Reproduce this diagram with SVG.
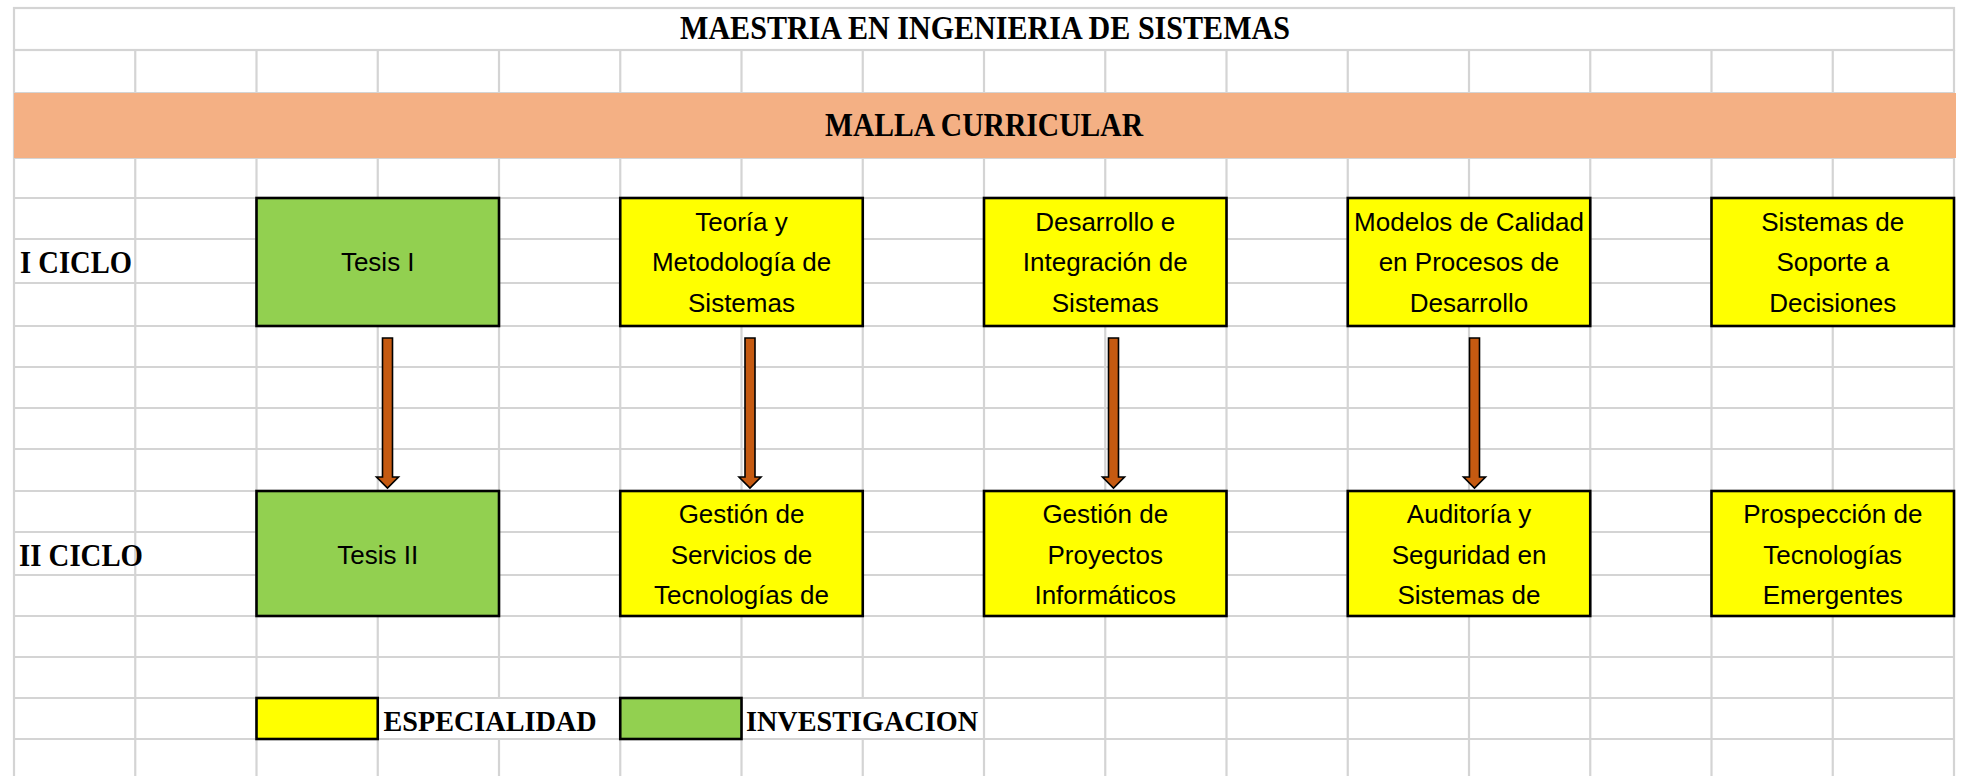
<svg xmlns="http://www.w3.org/2000/svg" xmlns:xlink="http://www.w3.org/1999/xlink" width="1964" height="776" viewBox="0 0 1964 776">
<style>
.grid{fill:none;stroke:#D4D4D4;stroke-width:2.2}
.band{fill:#F4B084}
.hdr{font-family:"Liberation Serif","Times New Roman",serif;font-weight:bold;fill:#000}
.box{stroke:#000;stroke-width:2.6}
.spec{fill:#FFFF00}
.inv{fill:#92D050}
.lbl{font-family:"Liberation Sans",Arial,sans-serif;font-size:26px;fill:#000;text-anchor:middle}
.arrow{fill:#C55A11;stroke:#000;stroke-width:1.6;stroke-linejoin:miter}
</style>
<defs>
<path id="arw" class="arrow" d="M-5,338 H5 V477 H11 L0,488 L-11,477 H-5 Z"/>
</defs>
<rect width="1964" height="776" fill="#fff"/>
<g id="grid">
<path class="grid" d="M14,50 V776 M135.25,50 V776 M256.5,50 V776 M377.75,50 V776 M499,50 V698 M499,739 V776 M620.25,50 V776 M741.5,50 V776 M862.75,50 V698 M862.75,739 V776 M984,50 V776 M1105.25,50 V776 M1226.5,50 V776 M1347.75,50 V776 M1469,50 V776 M1590.25,50 V776 M1711.5,50 V776 M1832.75,50 V776 M1954,50 V776"/>
<path class="grid" d="M14,93 H1954 M14,158 H1954 M14,198 H1954 M14,239 H1954 M14,283 H1954 M14,326 H1954 M14,367 H1954 M14,408 H1954 M14,449 H1954 M14,491 H1954 M14,532 H1954 M14,575 H1954 M14,616 H1954 M14,657 H1954 M14,698 H1954 M14,739 H1954"/>
<rect class="grid" x="14" y="8" width="1940" height="42"/>
</g>
<g id="title">
<text class="hdr" x="985" y="39" font-size="33" text-anchor="middle" textLength="610" lengthAdjust="spacingAndGlyphs">MAESTRIA EN INGENIERIA DE SISTEMAS</text>
</g>
<g id="malla">
<rect class="band" x="14" y="93" width="1942" height="65"/>
<text class="hdr" x="984" y="136" font-size="33" text-anchor="middle" textLength="318" lengthAdjust="spacingAndGlyphs">MALLA CURRICULAR</text>
</g>
<g id="ciclo1"><text class="hdr" x="20" y="273" font-size="31" textLength="112" lengthAdjust="spacingAndGlyphs">I CICLO</text></g>
<g id="ciclo2"><text class="hdr" x="19" y="566" font-size="31" textLength="124" lengthAdjust="spacingAndGlyphs">II CICLO</text></g>
<g id="connectors">
<use xlink:href="#arw" x="387.5"/>
<use xlink:href="#arw" x="750"/>
<use xlink:href="#arw" x="1113.5"/>
<use xlink:href="#arw" x="1474.5"/>
</g>
<g id="tesis1"><rect class="box inv" x="256.5" y="198" width="242.5" height="128"/><text class="lbl" x="377.75" y="271">Tesis I</text></g>
<g id="teoria"><rect class="box spec" x="620.25" y="198" width="242.5" height="128"/><text class="lbl" x="741.5" y="231">Teoría y</text><text class="lbl" x="741.5" y="271">Metodología de</text><text class="lbl" x="741.5" y="312">Sistemas</text></g>
<g id="desarrollo"><rect class="box spec" x="984" y="198" width="242.5" height="128"/><text class="lbl" x="1105.25" y="231">Desarrollo e</text><text class="lbl" x="1105.25" y="271">Integración de</text><text class="lbl" x="1105.25" y="312">Sistemas</text></g>
<g id="modelos"><rect class="box spec" x="1347.75" y="198" width="242.5" height="128"/><text class="lbl" x="1469" y="231">Modelos de Calidad</text><text class="lbl" x="1469" y="271">en Procesos de</text><text class="lbl" x="1469" y="312">Desarrollo</text></g>
<g id="soporte"><rect class="box spec" x="1711.5" y="198" width="242.5" height="128"/><text class="lbl" x="1832.75" y="231">Sistemas de</text><text class="lbl" x="1832.75" y="271">Soporte a</text><text class="lbl" x="1832.75" y="312">Decisiones</text></g>
<g id="tesis2"><rect class="box inv" x="256.5" y="491" width="242.5" height="125"/><text class="lbl" x="377.75" y="564">Tesis II</text></g>
<g id="gestion-servicios"><rect class="box spec" x="620.25" y="491" width="242.5" height="125"/><text class="lbl" x="741.5" y="523">Gestión de</text><text class="lbl" x="741.5" y="564">Servicios de</text><text class="lbl" x="741.5" y="604">Tecnologías de</text></g>
<g id="gestion-proyectos"><rect class="box spec" x="984" y="491" width="242.5" height="125"/><text class="lbl" x="1105.25" y="523">Gestión de</text><text class="lbl" x="1105.25" y="564">Proyectos</text><text class="lbl" x="1105.25" y="604">Informáticos</text></g>
<g id="auditoria"><rect class="box spec" x="1347.75" y="491" width="242.5" height="125"/><text class="lbl" x="1469" y="523">Auditoría y</text><text class="lbl" x="1469" y="564">Seguridad en</text><text class="lbl" x="1469" y="604">Sistemas de</text></g>
<g id="prospeccion"><rect class="box spec" x="1711.5" y="491" width="242.5" height="125"/><text class="lbl" x="1832.75" y="523">Prospección de</text><text class="lbl" x="1832.75" y="564">Tecnologías</text><text class="lbl" x="1832.75" y="604">Emergentes</text></g>
<g id="legend-especialidad"><rect class="box spec" x="256.5" y="698" width="121.25" height="41"/><text class="hdr" x="383.5" y="731" font-size="29" textLength="213" lengthAdjust="spacingAndGlyphs">ESPECIALIDAD</text></g>
<g id="legend-investigacion"><rect class="box inv" x="620.25" y="698" width="121.25" height="41"/><text class="hdr" x="746" y="731" font-size="29" textLength="232" lengthAdjust="spacingAndGlyphs">INVESTIGACION</text></g>
</svg>
